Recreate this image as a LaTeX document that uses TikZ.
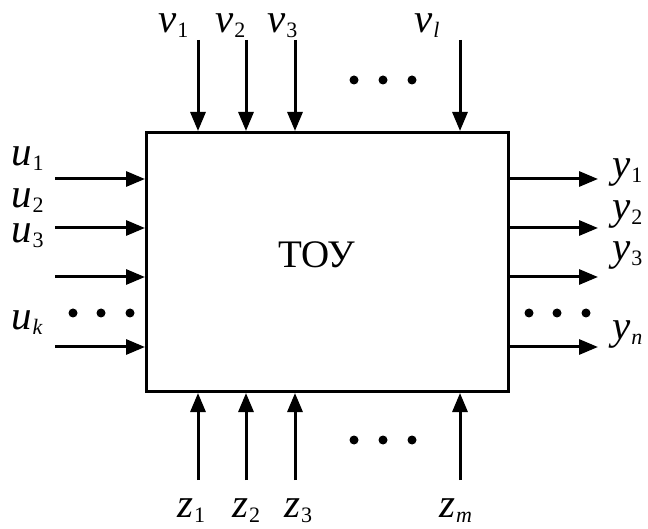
\documentclass[tikz,border=0pt]{standalone}
\usepackage{fontspec}
\setmainfont{Liberation Serif}
\usetikzlibrary{arrows.meta}
\newcommand\sublbl[2]{\textit{#1}\kern1pt\raisebox{-5pt}{\fontsize{22}{22}\selectfont #2}}
\begin{document}
\begin{tikzpicture}[x=1pt,y=-1pt,
  arr/.style={line width=3pt,-{Triangle[length=19pt,width=15pt]}},
  dot/.style={circle,fill=black,inner sep=0pt,minimum size=9pt},
  lbl/.style={inner sep=0pt,anchor=base west,font=\fontsize{41}{41}\selectfont}]
\useasboundingbox (0,0) rectangle (648,529);
\node[draw,line width=3pt,minimum width=362pt,minimum height=259pt,inner sep=0pt] (box) at (327.5,262) {};
\node[inner sep=0pt,font=\fontsize{39}{39}\selectfont] (title) at (317,255) {ТОУ};
% top inputs
\foreach \n/\x in {v1/198,v2/246,v3/295,vl/460}{
  \coordinate (\n s) at (\x,40);
  \draw[arr] (\n s) -- (\n s |- box.north);
}
% bottom inputs
\foreach \n/\x in {z1/198,z2/246,z3/295,zm/460}{
  \coordinate (\n s) at (\x,480);
  \draw[arr] (\n s) -- (\n s |- box.south);
}
% left inputs
\foreach \n/\y in {u1/179,u2/228,u3/277,uk/347}{
  \coordinate (\n s) at (55,\y);
  \draw[arr] (\n s) -- (\n s -| box.west);
}
% right outputs
\foreach \n/\y in {y1/179,y2/228,y3/277,yn/347}{
  \coordinate (\n e) at (598,\y);
  \draw[arr] (\n e -| box.east) -- (\n e);
}
% dots
\node[dot] (td1) at (354,80) {};
\node[dot] (td2) at (383,80) {};
\node[dot] (td3) at (412,80) {};
\node[dot] (bd1) at (354,440) {};
\node[dot] (bd2) at (383,440) {};
\node[dot] (bd3) at (412,440) {};
\node[dot] (ld1) at (73,313) {};
\node[dot] (ld2) at (101,313) {};
\node[dot] (ld3) at (130,313) {};
\node[dot] (rd1) at (529,313) {};
\node[dot] (rd2) at (557,313) {};
\node[dot] (rd3) at (586,313) {};
% labels
\node[lbl] (v1) at (158,33) {\sublbl{v}{1}};
\node[lbl] (v2) at (215,33) {\sublbl{v}{2}};
\node[lbl] (v3) at (267,33) {\sublbl{v}{3}};
\node[lbl] (vl) at (414,33) {\sublbl{v}{\textit{l}}};
\node[lbl] (u1) at (11,166) {\sublbl{u}{1}};
\node[lbl] (u2) at (11,208) {\sublbl{u}{2}};
\node[lbl] (u3) at (11,243) {\sublbl{u}{3}};
\node[lbl] (uk) at (11,330) {\sublbl{u}{\textit{k}}};
\node[lbl] (y1) at (612,178) {\sublbl{y}{1}};
\node[lbl] (y2) at (612,220) {\sublbl{y}{2}};
\node[lbl] (y3) at (612,261) {\sublbl{y}{3}};
\node[lbl] (yn) at (612,340) {\sublbl{y}{\textit{n}}};
\node[lbl] (z1) at (177,517) {\sublbl{z}{1}};
\node[lbl] (z2) at (232,517) {\sublbl{z}{2}};
\node[lbl] (z3) at (284,517) {\sublbl{z}{3}};
\node[lbl] (zm) at (439,517) {\sublbl{z}{\textit{m}}};
\end{tikzpicture}
\end{document}
